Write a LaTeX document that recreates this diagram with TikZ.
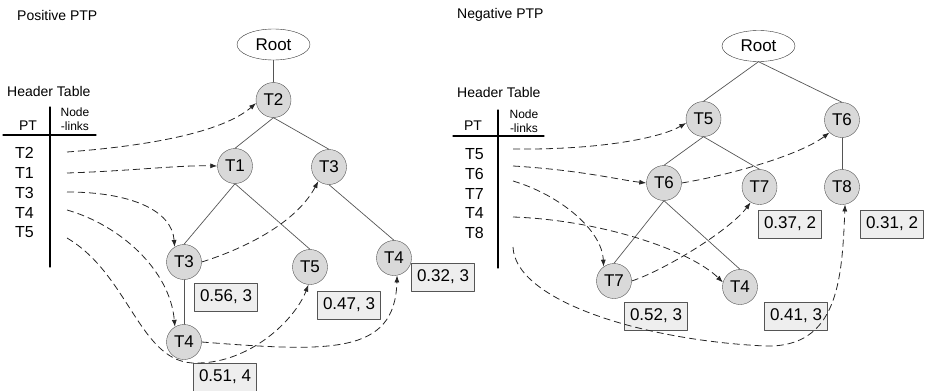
\documentclass[tikz,border=0pt]{standalone}
\usepackage{fontspec}
\setmainfont{Liberation Sans}
\usetikzlibrary{shapes.geometric,arrows.meta}
\definecolor{nodegray}{HTML}{D9D9D9}
\definecolor{boxgray}{HTML}{EEEEEE}
\definecolor{linegray}{HTML}{555555}

\begin{document}
\begin{tikzpicture}[x=1pt, y=-1pt, line join=round, line cap=round,
    item/.style={circle, draw=linegray, fill=nodegray, minimum size=35pt, inner sep=0pt, font=\fontsize{17}{20}\selectfont},
    rootnode/.style={ellipse, draw=black!80, fill=white, minimum width=73pt, minimum height=31pt, inner sep=0pt, font=\fontsize{17}{20}\selectfont},
    countbox/.style={rectangle, draw=linegray, fill=boxgray, minimum width=63pt, minimum height=28pt, inner sep=0pt, font=\fontsize{17}{20}\selectfont},
    treeline/.style={draw=linegray, line width=0.7pt},
    nodelink/.style={draw=black!85, line width=0.8pt, line cap=butt, dash pattern=on 7pt off 4pt, -{Latex[length=7pt,width=5pt]}},
    paneltitle/.style={anchor=west, inner sep=0pt, font=\fontsize{14}{16}\selectfont},
    rowentry/.style={anchor=west, inner sep=0pt, font=\fontsize{16}{18}\selectfont}]

    \useasboundingbox (0,0) rectangle (927,391);

    % ---------- Positive PTP ----------
    \node[paneltitle] (ptitle) at (17,15) {Positive PTP};
    \node[paneltitle] (phead) at (7,91) {Header Table};
    \node[font=\fontsize{14}{16}\selectfont] (ppt) at (28,126) {PT};
    \node[font=\fontsize{12}{14}\selectfont, align=center, inner sep=0pt] (plinks) at (75,119) {Node\\-links};
    \draw[line width=1.1pt] (3,135) -- (96,135); % table rule
    \draw[line width=1.1pt] (50,107) -- (50,267);
    \foreach \t [count=\i] in {T2,T1,T3,T4,T5}
        \node[rowentry] (pt\i) at (15,133.5+19.75*\i) {\t};
    \foreach \i/\y in {1/152, 2/173, 3/192, 4/210, 5/238}
        \coordinate (pl\i) at (67,\y);

    % tree
    \node[rootnode] (rootP) at (273.5,44.5) {Root};
    \node[item] (p2) at (273.5,100) {T2};
    \node[item] (p1) at (235,166) {T1};
    \node[item] (p3) at (329,167) {T3};
    \node[item] (p3b) at (184,262) {T3};
    \node[item] (p5) at (310,267) {T5};
    \node[item] (p4) at (394,258) {T4};
    \node[item] (p4b) at (184,342) {T4};
    \foreach \a/\b in {rootP/p2, p2/p1, p2/p3, p1/p3b, p1/p5, p3/p4, p3b/p4b}
        \draw[treeline] (\a.south) -- (\b.north);

    \node[countbox] (pc3) at (226,297) {0.56, 3};
    \node[countbox] (pc5) at (349,305) {0.47, 3};
    \node[countbox] (pc4) at (443,277) {0.32, 3};
    \node[countbox] (pc4b) at (225,377) {0.51, 4};

    % node-links
    \draw[nodelink] (pl1) .. controls (160,145) and (225,130) .. (p2.190);
    \draw[nodelink] (pl2) .. controls (130,171) and (180,165) .. (p1.west);
    \draw[nodelink] (pl3) .. controls (130,192) and (172,210) .. (p3b.122);
    \draw[nodelink] (pl4) .. controls (120,225) and (170,270) .. (p4b.121);
    \draw[nodelink] (pl5) .. controls (130,275) and (140,365) .. (197,363)
        .. controls (250,363) and (295,320) .. (p5.265);
    \draw[nodelink] (p3b.east) .. controls (240,250) and (295,225) .. (p3.233);
    \draw[nodelink] (p4b.east) .. controls (330,352) and (395,355) .. (p4.280);

    % ---------- Negative PTP ----------
    \node[paneltitle] (ntitle) at (457,15) {Negative PTP};
    \node[paneltitle] (nhead) at (457,92) {Header Table};
    \node[font=\fontsize{14}{16}\selectfont] (npt) at (473,126) {PT};
    \node[font=\fontsize{12}{14}\selectfont, align=center, inner sep=0pt] (nlinks) at (524,121) {Node\\-links};
    \draw[line width=1.1pt] (453,136) -- (544,136); % table rule
    \draw[line width=1.1pt] (498,110) -- (498,268);
    \foreach \t [count=\i] in {T5,T6,T7,T4,T8}
        \node[rowentry] (nt\i) at (465,134.25+19.75*\i) {\t};
    \foreach \i/\y in {1/149, 2/166, 3/181, 4/217, 5/247}
        \coordinate (nl\i) at (513,\y);

    % tree
    \node[rootnode] (rootN) at (758.5,46) {Root};
    \node[item] (n5) at (703.5,119) {T5};
    \node[item] (n6) at (842,120) {T6};
    \node[item] (n6b) at (664,183) {T6};
    \node[item] (n7) at (759.5,187) {T7};
    \node[item] (n8) at (842,187) {T8};
    \node[item] (n7b) at (614,281) {T7};
    \node[item] (n4) at (740,287) {T4};
    \foreach \a/\b in {rootN/n5, rootN/n6, n5/n6b, n5/n7, n6/n8, n6b/n7b, n6b/n4}
        \draw[treeline] (\a.south) -- (\b.north);

    \node[countbox] (nc7) at (790,224) {0.37, 2};
    \node[countbox] (nc8) at (892,224) {0.31, 2};
    \node[countbox] (nc7b) at (656,316) {0.52, 3};
    \node[countbox] (nc4) at (796,316) {0.41, 3};

    % node-links
    \draw[nodelink] (nl1) .. controls (600,150) and (660,138) .. (n5.193);
    \draw[nodelink] (nl2) .. controls (580,170) and (620,180) .. (n6b.west);
    \draw[nodelink] (n6b.east) .. controls (730,175) and (800,155) .. (n6.225);
    \draw[nodelink] (nl3) .. controls (560,195) and (602,230) .. (n7b.126);
    \draw[nodelink] (nl4) .. controls (600,220) and (690,250) .. (n4.165);
    \draw[nodelink] (n7b.east) .. controls (665,270) and (730,230) .. (n7.240);
    \draw[nodelink] (nl5) .. controls (515,300) and (640,340) .. (765,346)
        .. controls (838,348) and (842,280) .. (n8.280);

\end{tikzpicture}
\end{document}
